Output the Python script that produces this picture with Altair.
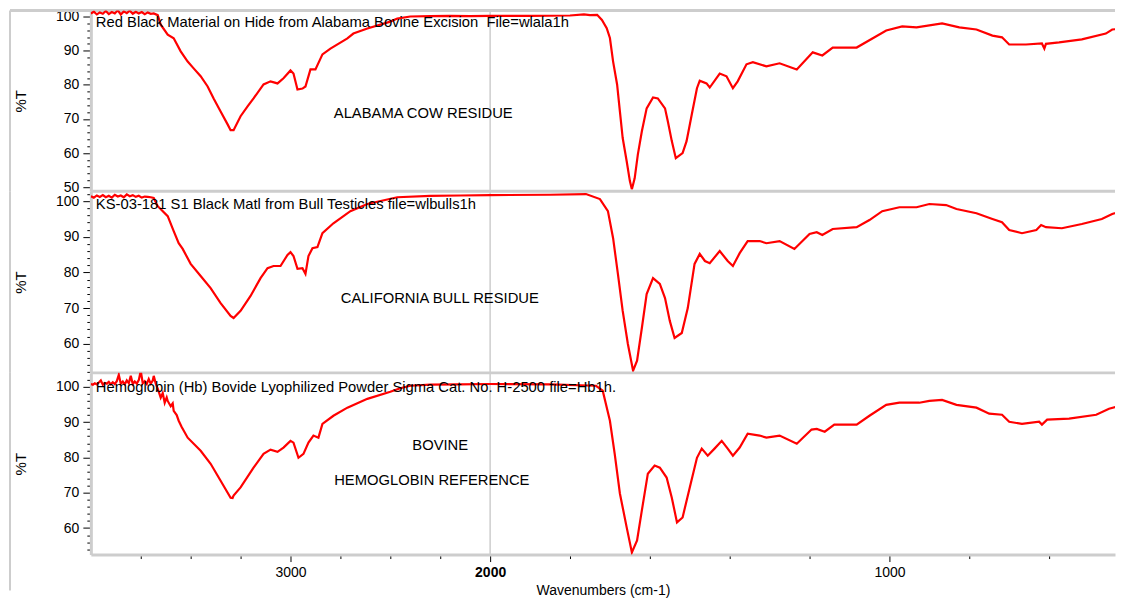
import math
import altair as alt
import pandas as pd

# ---------------- data (wavenumber cm-1, %T) ----------------
WN1 = [4000, 3985, 3970, 3955, 3940, 3925, 3910, 3895, 3880, 3865, 3850, 3835, 3820, 3805, 3790, 3775, 3760, 3745, 3730, 3715, 3700, 3685,
       3665, 3650, 3615, 3585, 3550, 3515, 3485, 3450, 3415, 3385, 3350, 3315, 3300, 3285, 3250, 3215, 3185, 3135, 3100, 3065, 3035, 3000,
       2985, 2965, 2940, 2925, 2900, 2875, 2840, 2800, 2715, 2685, 2615, 2500, 2465,
       2400, 2300, 2200, 2100, 2000, 1900, 1800, 1765, 1750, 1732,
       1720, 1708, 1700, 1692, 1682, 1675, 1668, 1658, 1650, 1645, 1638, 1630, 1620, 1608, 1592, 1580, 1562, 1555, 1545, 1535, 1518, 1508,
       1495, 1482, 1475, 1458, 1450, 1425, 1408, 1392, 1380, 1358, 1342, 1308, 1275, 1232,
       1192, 1168, 1142, 1082, 1008, 968, 932, 868, 825, 782, 742, 718, 700, 658, 618, 612, 608, 575, 518, 458, 442, 412]
T1 = [100.9, 101.4, 100.6, 101.2, 100.8, 101.6, 100.7, 101.3, 100.9, 101.8, 100.6, 101.5, 101.0, 101.7, 100.8, 101.4, 100.9, 101.3, 100.7, 101.2, 100.8, 100.9,
      100.4, 97.6, 94.7, 93.6, 89.8, 86.8, 84.8, 82.5, 79.5, 76.0, 72.2, 68.4, 66.7, 66.7, 70.8, 73.7, 76.0, 80.1, 81.0, 80.4, 81.9, 84.2,
      83.3, 78.6, 78.9, 79.5, 84.5, 84.5, 88.9, 90.6, 93.6, 95.0, 96.5, 98.5, 99.4,
      100.0, 100.1, 100.2, 100.1, 100.2, 100.2, 100.3, 100.6, 100.4, 100.5,
      99.0, 96.6, 93.7, 86.8, 80.1, 72.2, 64.4, 57.6, 51.8, 49.4, 52.6, 59.6, 66.4, 73.1, 76.3, 76.0, 73.1, 69.3, 63.5, 58.5, 60.0, 63.5,
      71.3, 79.0, 81.2, 80.4, 79.2, 83.3, 82.5, 79.0, 81.0, 86.0, 86.6, 85.4, 86.3, 84.5,
      89.5, 88.6, 90.9, 90.9, 95.9, 97.1, 96.8, 98.0, 96.8, 96.2, 94.4, 93.9, 91.8, 91.8, 92.1, 90.6, 92.0, 92.4, 93.3, 95.0, 96.2, 96.5]

WN2 = [4000, 3985, 3970, 3955, 3940, 3925, 3910, 3895, 3880, 3865, 3850, 3835, 3820, 3805, 3790, 3775, 3760, 3745, 3730, 3715, 3700, 3685,
       3665, 3615, 3585, 3560, 3540, 3500, 3450, 3400, 3350, 3300, 3285, 3250, 3200, 3150, 3115, 3085, 3050, 3015, 3000, 2985, 2965, 2940,
       2925, 2910, 2890, 2865, 2840, 2785, 2700, 2615, 2465,
       2300, 2150, 2000, 1850, 1760,
       1725, 1705, 1692, 1680, 1668, 1655, 1642, 1632, 1620, 1608, 1592, 1575, 1562, 1550, 1538, 1520, 1505, 1488, 1475, 1462, 1450, 1425,
       1405, 1392, 1375, 1355, 1325, 1308, 1275, 1238,
       1200, 1182, 1168, 1142, 1082, 1050, 1018, 975, 932, 900, 858, 832, 782, 742, 718, 700, 668, 632, 620, 608, 568, 518, 468, 442, 412]
T2 = [101.4, 101.0, 101.6, 101.2, 101.7, 101.1, 101.5, 101.0, 101.8, 101.3, 101.6, 101.1, 101.9, 101.4, 101.7, 101.2, 101.5, 101.0, 101.3, 101.2, 101.1, 100.9,
      98.6, 95.8, 91.6, 88.2, 86.6, 82.4, 79.0, 75.6, 71.4, 67.8, 67.2, 69.2, 73.4, 78.4, 81.2, 81.8, 81.8, 84.9, 85.7, 84.6, 81.0, 81.2,
      79.6, 84.6, 86.8, 87.1, 91.0, 93.8, 97.2, 99.2, 101.1,
      101.5, 101.6, 101.7, 101.8, 102.0,
      100.6, 97.2, 89.6, 79.6, 69.2, 59.9, 52.4, 55.2, 64.4, 73.9, 78.4, 76.8, 72.8, 66.4, 61.6, 63.0, 70.0, 82.4, 85.2, 83.2, 82.6, 86.0,
      83.2, 81.8, 85.4, 88.8, 88.8, 88.2, 88.8, 86.6,
      90.8, 91.3, 90.5, 92.2, 92.7, 94.7, 97.2, 98.3, 98.3, 99.2, 98.9, 97.8, 96.6, 95.0, 94.1, 91.9, 91.0, 91.9, 93.3, 92.7, 92.4, 93.6, 95.0, 96.4, 97.5]

WN3 = [4000, 3990, 3980, 3970, 3960, 3950, 3940, 3930, 3920, 3910, 3900, 3890, 3880, 3870, 3860, 3850, 3840, 3830, 3820, 3810, 3800,
       3790, 3780, 3770, 3760, 3750, 3740, 3730, 3720, 3710, 3700, 3690, 3685, 3675, 3665,
       3650, 3640, 3630, 3620, 3615, 3600, 3590, 3585, 3570, 3560, 3545, 3515, 3450, 3400, 3350, 3300, 3290, 3285, 3250, 3185, 3135, 3100,
       3065, 3035, 3000, 2985, 2960, 2935, 2910, 2885, 2860, 2840, 2785, 2715, 2615, 2500,
       2450, 2400, 2300, 2150, 2000, 1850, 1735,
       1718, 1700, 1688, 1675, 1658, 1645, 1632, 1620, 1605, 1588, 1575, 1558, 1545, 1532, 1518, 1500, 1482, 1470, 1455, 1438, 1420, 1405,
       1392, 1375, 1355, 1325, 1308, 1275, 1232,
       1195, 1182, 1162, 1138, 1082, 1050, 1008, 975, 925, 900, 868, 832, 782, 750, 718, 700, 668, 625, 618, 605, 550, 482, 450, 412]
T3 = [100.8, 100.6, 101.0, 100.7, 101.2, 101.8, 100.6, 101.1, 100.9, 101.4, 100.7, 101.3, 100.8, 101.6, 103.4, 100.9, 101.5, 100.7, 101.8, 101.0, 103.1,
      100.8, 101.5, 100.9, 101.9, 104.5, 101.0, 101.6, 100.8, 102.2, 100.9, 101.8, 103.1, 100.9, 99.5,
      96.9, 98.2, 95.5, 97.0, 96.0, 94.5, 95.3, 93.2, 92.0, 90.4, 88.6, 85.6, 81.9, 78.2, 73.4, 68.6, 68.5, 69.2, 71.5, 77.1, 81.0, 82.2,
      81.6, 82.8, 84.7, 84.2, 79.9, 81.0, 84.2, 86.2, 85.6, 89.5, 91.8, 94.1, 96.6, 98.6,
      99.6, 100.3, 100.6, 100.7, 100.8, 100.7, 100.3,
      98.9, 90.4, 81.0, 69.8, 60.2, 53.1, 56.5, 65.0, 75.4, 77.7, 77.1, 74.3, 68.6, 61.6, 63.0, 71.5, 79.9, 82.5, 80.5, 82.5, 84.7, 82.5,
      80.5, 82.8, 86.7, 86.2, 85.6, 86.2, 83.9,
      87.9, 88.1, 87.3, 89.3, 89.3, 91.8, 94.9, 95.5, 95.5, 96.0, 96.3, 94.9, 94.1, 92.4, 92.1, 90.1, 89.5, 90.1, 89.3, 90.7, 91.0, 92.1, 93.8, 94.9]

HEADERS = [
    "Red Black Material on Hide from Alabama Bovine Excision\u00a0 File=wlala1h",
    "KS-03-181 S1 Black Matl from Bull Testicles file=wlbulls1h",
    "Hemoglobin (Hb) Bovide Lyophilized Powder Sigma Cat. No. H-2500 file=Hb1h.",
]
HEADER_WN = [3975, 3975, 3975]
HEADER_T = [98.0, 98.9, 99.8]

NOTES = [["ALABAMA COW RESIDUE"], ["CALIFORNIA BULL RESIDUE"], ["BOVINE", "HEMOGLOBIN REFERENCE"]]
NOTE_WN = [[2335], [2252], [2250, 2292]]
NOTE_T = [[71.3], [72.6], [83.1, 73.2]]

Y_DOMAINS = [[48.83, 101.75], [51.8, 102.8], [52.5, 103.95]]
HEIGHTS = [181, 182, 182]

X_TICKS = [3750, 3500, 3250, 3000, 2750, 2500, 2250, 2000, 1800, 1600, 1400, 1200, 1000, 800, 600]

# ---------------- styling ----------------
W = 1026
X_DOMAIN = [4000, 2000, 435]
X_RANGE = [0, 400, W]
GRAY = "#cdcdcd"
RED = "#ff0000"
FONT = "Liberation Sans"
FRAME_X = -81


def make_panel(i, wn, t):
    h = HEIGHTS[i]
    ydom = Y_DOMAINS[i]
    is_top = i == 0
    is_bottom = i == 2
    xs = alt.Scale(domain=X_DOMAIN, range=X_RANGE, nice=False, zero=False)
    ys = alt.Scale(domain=ydom, nice=False, zero=False)
    yvals = [v for v in range(math.ceil(ydom[0]), math.floor(ydom[1]) + 1) if v % 2 == 0]
    yaxis = alt.Axis(
        values=yvals, title="%T", format="d",
        labelExpr="datum.value % 10 === 0 ? datum.label : ''",
        tickSize={"condition": {"test": "datum.value % 10 === 0", "value": 8}, "value": 4},
        domainColor=GRAY, domainWidth=3, tickColor="#000000", tickWidth=1,
        labelFont=FONT, labelFontSize=14, labelColor="#000000", labelPadding=4,
        titleFont=FONT, titleFontSize=15, titleFontWeight="normal", titleColor="#000000",
        titlePadding=10, minExtent=52, maxExtent=52, grid=False,
        labelOverlap=False, labelFlush=False,
    )
    if is_bottom:
        major = "datum.value == 3000 || datum.value == 2000 || datum.value == 1000"
        xaxis = alt.Axis(
            values=X_TICKS, title="Wavenumbers (cm-1)", format="d",
            labelExpr="(" + major + ") ? datum.label : ''",
            tickSize={"condition": {"test": major, "value": 7}, "value": 4},
            labelFontWeight={"condition": {"test": "datum.value == 2000", "value": "bold"}, "value": "normal"},
            domainColor=GRAY, domainWidth=3, tickColor="#000000", tickWidth=1,
            labelFont=FONT, labelFontSize=14, labelColor="#000000", labelPadding=4,
            titleFont=FONT, titleFontSize=14, titleFontWeight="normal", titleColor="#000000",
            titlePadding=4, grid=False, labelOverlap=False, labelFlush=False,
        )
    else:
        xaxis = None

    X = lambda: alt.X("wn:Q", scale=xs, axis=xaxis)
    Y = lambda: alt.Y("t:Q", scale=ys, axis=yaxis)

    df = pd.DataFrame({"wn": wn, "t": t})
    line = alt.Chart(df).mark_line(color=RED, strokeWidth=2.2, clip=True).encode(x=X(), y=Y())

    grid = alt.Chart(pd.DataFrame({"wn": [2000]})).mark_rule(color=GRAY, strokeWidth=1.5).encode(x=X())

    one = pd.DataFrame({"k": [0]})
    top = alt.Chart(one).mark_rule(color=GRAY, strokeWidth=3).encode(
        x=alt.value(FRAME_X if is_top else 0), x2=alt.value(W), y=alt.value(0))
    frame = alt.Chart(one).mark_rule(color=GRAY, strokeWidth=2).encode(
        x=alt.value(FRAME_X), y=alt.value(0), y2=alt.value(h + (36 if is_bottom else 0)))

    hdr = alt.Chart(pd.DataFrame({"wn": [HEADER_WN[i]], "t": [HEADER_T[i]], "txt": [HEADERS[i]]})).mark_text(
        align="left", baseline="middle", font=FONT, fontSize=14.8, color="#000000").encode(
        x=X(), y=Y(), text="txt:N")
    notes = alt.Chart(pd.DataFrame({"wn": NOTE_WN[i], "t": NOTE_T[i], "txt": NOTES[i]})).mark_text(
        align="center", baseline="middle", font=FONT, fontSize=14.8, color="#000000").encode(
        x=X(), y=Y(), text="txt:N")

    return alt.layer(grid, top, frame, line, hdr, notes).properties(width=W, height=h)


panels = [make_panel(0, WN1, T1), make_panel(1, WN2, T2), make_panel(2, WN3, T3)]

chart = alt.vconcat(*panels, spacing=0, bounds="flush").properties(
    padding=0, background="#ffffff"
).configure_view(stroke=None)

chart.save("out.html", embed_options={"renderer": "svg", "actions": False})
